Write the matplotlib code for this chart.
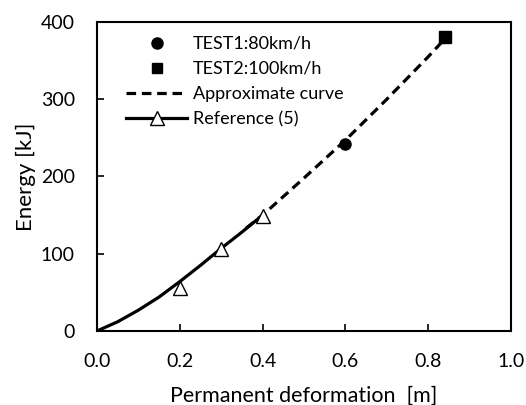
import matplotlib
matplotlib.use("Agg")
import matplotlib.pyplot as plt

plt.rcParams['font.family'] = ['Lato', 'DejaVu Sans']

# reference (5) curve and its marked points
ref_x = [0.0, 0.05, 0.1, 0.15, 0.2, 0.25, 0.3, 0.35, 0.4]
ref_y = [0, 12, 27, 44, 64, 85, 107, 128, 150]
ref_pts_x = [0.2, 0.3, 0.4]
ref_pts_y = [56, 106, 149]

# approximate curve
approx_x = [0.36, 0.4, 0.5, 0.6, 0.7, 0.8, 0.84]
approx_y = [133, 150, 198, 247, 300, 355, 378]

# tests
test1_x, test1_y = [0.6], [242]
test2_x, test2_y = [0.84], [380]

fig = plt.figure(figsize=(5.26, 4.05), dpi=100)
ax = fig.add_axes([0.1844, 0.1827, 0.7871, 0.763])

ax.plot(ref_x, ref_y, color='black', lw=2.3, zorder=2)
ax.plot(ref_pts_x, ref_pts_y, ls='none', marker='^', ms=10, mfc='white',
        mec='black', mew=1.0, zorder=4)
ax.plot(approx_x, approx_y, color='black', lw=2.3, ls=(0, (3, 1.8)), zorder=3)
ax.plot(test1_x, test1_y, ls='none', marker='o', ms=8, color='black', zorder=5)
ax.plot(test2_x, test2_y, ls='none', marker='s', ms=8, color='black', zorder=5)

# legend handles
h1, = ax.plot([], [], ls='none', marker='o', ms=8, color='black')
h2, = ax.plot([], [], ls='none', marker='s', ms=7, color='black')
h3, = ax.plot([], [], color='black', lw=2.3, ls=(0, (3, 1.8)))
h4, = ax.plot([], [], color='black', lw=2.3, marker='^', ms=10, mfc='white',
              mec='black', mew=1.0)
ax.legend([h1, h2, h3, h4],
          ['TEST1:80km/h', 'TEST2:100km/h', 'Approximate curve', 'Reference (5)'],
          loc='upper left', bbox_to_anchor=(0.07, 0.955), frameon=False,
          fontsize=13, handlelength=3.4, handletextpad=0.3, labelspacing=0.5,
          borderpad=0, borderaxespad=0, numpoints=1)

ax.set_xlim(0, 1.0)
ax.set_ylim(0, 400)
ax.set_xticks([0.0, 0.2, 0.4, 0.6, 0.8, 1.0])
ax.set_xticklabels(['0.0', '0.2', '0.4', '0.6', '0.8', '1.0'])
ax.set_yticks([0, 100, 200, 300, 400])
ax.tick_params(direction='in', length=5, width=1.2, labelsize=14, pad=16)
for s in ax.spines.values():
    s.set_linewidth(1.5)

ax.set_xlabel('Permanent deformation  [m]', fontsize=15.5, labelpad=11)
ax.set_ylabel('Energy [kJ]', fontsize=16, labelpad=3)

fig.savefig('out.png', dpi=100)
